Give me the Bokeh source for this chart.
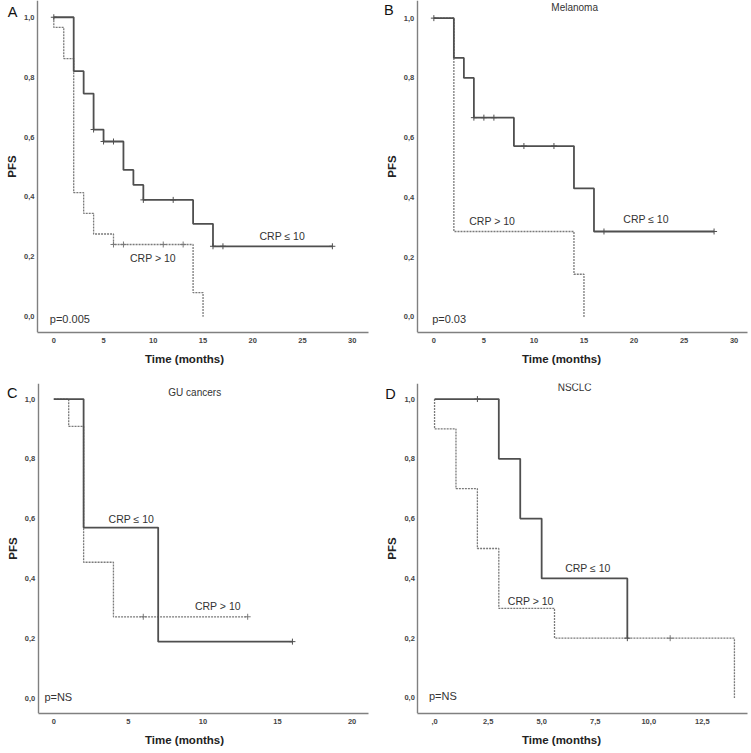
from bokeh.plotting import figure
from bokeh.models import Range1d, FixedTicker, CustomJSTickFormatter
from bokeh.layouts import column, row
from bokeh.core.properties import value
from bokeh.embed import file_html
from bokeh.resources import INLINE

FONT = "Liberation Sans"

# ---------------- data ----------------
# Panel A (all patients)
a_low_t = [0, 2, 3, 4, 5, 7, 8, 9, 14, 16, 28]
a_low_s = [1.0, 0.82, 0.745, 0.625, 0.585, 0.49, 0.44, 0.39, 0.31, 0.235, 0.235]
a_low_ct = [0, 4, 5, 6, 9, 12, 16, 17, 28]
a_low_cs = [1.0, 0.625, 0.585, 0.585, 0.39, 0.39, 0.235, 0.235, 0.235]
a_high_t = [0, 0, 1, 2, 3, 4, 6, 14, 15]
a_high_s = [1.0, 0.966, 0.862, 0.414, 0.345, 0.276, 0.241, 0.08, 0.0]
a_high_ct = [6, 7, 11, 13]
a_high_cs = [0.241, 0.241, 0.241, 0.241]

# Panel B (Melanoma)
b_low_t = [0, 2, 3, 4, 8, 14, 16, 28]
b_low_s = [1.0, 0.867, 0.80, 0.667, 0.572, 0.43, 0.286, 0.286]
b_low_ct = [0, 4, 5, 6, 9, 12, 17, 28]
b_low_cs = [1.0, 0.667, 0.667, 0.667, 0.572, 0.572, 0.286, 0.286]
b_high_t = [0, 2, 14, 15]
b_high_s = [1.0, 0.286, 0.143, 0.0]
b_high_ct = []
b_high_cs = []

# Panel C (GU cancers)
c_low_t = [0, 2, 7, 16]
c_low_s = [1.0, 0.571, 0.19, 0.19]
c_low_ct = [16]
c_low_cs = [0.19]
c_high_t = [0, 1, 2, 4, 13]
c_high_s = [1.0, 0.909, 0.455, 0.273, 0.273]
c_high_ct = [6, 13]
c_high_cs = [0.273, 0.273]

# Panel D (NSCLC)
d_low_t = [0, 3, 4, 5, 9]
d_low_s = [1.0, 0.8, 0.6, 0.4, 0.2]
d_low_ct = [2, 9]
d_low_cs = [1.0, 0.2]
d_high_t = [0, 0, 1, 2, 3, 5.6, 14]
d_high_s = [1.0, 0.9, 0.7, 0.5, 0.3, 0.2, 0.0]
d_high_ct = [11]
d_high_cs = [0.2]

y_ticks = [0.0, 0.2, 0.4, 0.6, 0.8, 1.0]
x_ticks_30 = [0, 5, 10, 15, 20, 25, 30]
x_ticks_20 = [0, 5, 10, 15, 20]
x_ticks_d = [0, 2.5, 5, 7.5, 10, 12.5]

SOLID = "#4f4f4f"
DASHED = "#7a7a7a"
TXT = "#333333"


def panel(width, height, borders, xr, axis_x, yr, xticks, letter, letter_xy, title, title_xy,
          low, high, labels, pval, pval_xy, xfmt):
    br, bt, bb = borders
    p = figure(width=width, height=height, output_backend="svg", toolbar_location=None,
               x_range=Range1d(*xr), y_range=Range1d(*yr),
               min_border_left=0, min_border_right=br, min_border_top=bt, min_border_bottom=bb)
    p.outline_line_color = None
    p.grid.grid_line_color = None
    p.background_fill_color = "white"
    p.border_fill_color = "white"

    for ax in (p.xaxis[0], p.yaxis[0]):
        ax.axis_line_color = "#808080"
        ax.axis_line_width = 1.4
        ax.major_tick_line_color = None
        ax.minor_tick_line_color = None
        ax.major_tick_out = 0
        ax.major_tick_in = 0
        ax.minor_tick_out = 0
        ax.major_label_text_font = FONT
        ax.major_label_text_font_size = "7.5px"
        ax.major_label_text_color = "#444444"
        ax.major_label_text_font_style = "bold"
        ax.axis_label_text_font = FONT
        ax.axis_label_text_font_size = "11.5px"
        ax.axis_label_text_font_style = "bold"
        ax.axis_label_text_color = "#222222"

    yax = p.yaxis[0]
    yax.ticker = FixedTicker(ticks=y_ticks)
    yax.formatter = CustomJSTickFormatter(code="return tick.toFixed(1).replace('.', ',');")
    yax.axis_label = "PFS"
    yax.major_label_standoff = 3
    yax.axis_label_standoff = 3
    yax.fixed_location = axis_x

    xax = p.xaxis[0]
    xax.ticker = FixedTicker(ticks=xticks)
    xax.formatter = CustomJSTickFormatter(code=xfmt)
    xax.axis_label = "Time (months)"
    xax.major_label_standoff = 5
    xax.axis_label_standoff = 7
    xax.bounds = (axis_x, xr[1])

    # curves
    lt, ls, lct, lcs = low
    ht, hs, hct, hcs = high
    p.step(ht, hs, mode="after", line_color=DASHED, line_width=1.3, line_dash="2 1")
    if hct:
        p.scatter(hct, hcs, marker="cross", size=6, line_color=DASHED, line_width=1)
    p.step(lt, ls, mode="after", line_color=SOLID, line_width=1.8)
    if lct:
        p.scatter(lct, lcs, marker="cross", size=6, line_color=SOLID, line_width=1)

    for txt, (x, y) in labels:
        p.text([x], [y], text=[txt], text_font=value(FONT), text_font_size="10.5px",
               text_color=TXT, text_align="center", text_baseline="middle")
    p.text([pval_xy[0]], [pval_xy[1]], text=[pval], text_font=value(FONT), text_font_size="11px",
           text_color=TXT, text_align="left", text_baseline="middle")
    if title:
        p.text([title_xy[0]], [title_xy[1]], text=[title], text_font=value(FONT),
               text_font_size="10px", text_color=TXT, text_align="center", text_baseline="middle")

    p.text([letter_xy[0]], [letter_xy[1]], text=[letter], text_font=value(FONT),
           text_font_size="14.5px", text_color="#111111", text_align="center", text_baseline="middle")
    return p


FMT_INT = "return tick.toFixed(0);"
FMT_D = "var s = tick.toFixed(1).replace('.', ','); if (s.indexOf('0,') === 0) { s = s.slice(1); } return s;"

pa = panel(375, 375, (7, 0, 43), (-5.357, 31.63), -1.64, (-0.053, 1.056), x_ticks_30,
           "A", (-4.15, 1.016), None, None,
           (a_low_t, a_low_s, a_low_ct, a_low_cs), (a_high_t, a_high_s, a_high_ct, a_high_cs),
           [("CRP \u2264 10", (22.96, 0.27)), ("CRP > 10", (9.96, 0.196))],
           "p=0.005", (-0.4, -0.008), FMT_INT)

pb = panel(376, 375, (4, 0, 40), (-5.83, 31.34), -1.66, (-0.052, 1.059), x_ticks_30,
           "B", (-4.5, 1.026), "Melanoma", (14.07, 1.037),
           (b_low_t, b_low_s, b_low_ct, b_low_cs), (b_high_t, b_high_s, b_high_ct, b_high_cs),
           [("CRP > 10", (5.83, 0.32)), ("CRP \u2264 10", (21.2, 0.327))],
           "p=0.03", (-0.17, -0.008), FMT_INT)

pc = panel(375, 378, (7, 8, 40), (-3.572, 21.1), -1.04, (-0.050, 1.052), x_ticks_20,
           "C", (-2.79, 1.019), "GU cancers", (9.45, 1.022),
           (c_low_t, c_low_s, c_low_ct, c_low_cs), (c_high_t, c_high_s, c_high_ct, c_high_cs),
           [("CRP \u2264 10", (5.2, 0.6)), ("CRP > 10", (11.0, 0.31))],
           "p=NS", (-0.63, 0.006), FMT_INT)

pd_ = panel(376, 378, (4, 8, 37), (-2.757, 14.61), -0.78, (-0.052, 1.052), x_ticks_d,
            "D", (-2.06, 1.016), "NSCLC", (6.54, 1.039),
            (d_low_t, d_low_s, d_low_ct, d_low_cs), (d_high_t, d_high_s, d_high_ct, d_high_cs),
            [("CRP \u2264 10", (7.16, 0.435)), ("CRP > 10", (4.49, 0.325))],
            "p=NS", (-0.26, 0.008), FMT_D)

layout = column(row(pa, pb), row(pc, pd_))

open("out.html", "w").write(file_html(layout, INLINE))
